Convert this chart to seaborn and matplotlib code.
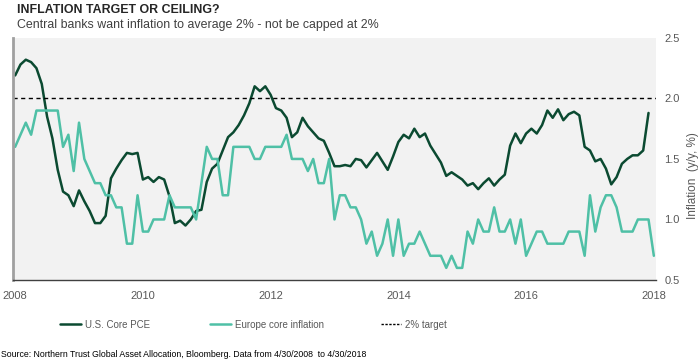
import numpy as np
import pandas as pd
import matplotlib
matplotlib.use("Agg")
import matplotlib.pyplot as plt
import seaborn as sns
from matplotlib.lines import Line2D

# ---------------- data (monthly, from 4/2008) ----------------
us_core_pce = [
    2.19, 2.28, 2.32, 2.30, 2.25, 2.12, 1.85, 1.67, 1.41, 1.23,
    1.20, 1.11, 1.24, 1.15, 1.07, 0.97, 0.97, 1.03, 1.34, 1.42,
    1.49, 1.55, 1.54, 1.55, 1.33, 1.35, 1.31, 1.35, 1.33, 1.19,
    0.97, 0.99, 0.95, 1.00, 1.07, 1.08, 1.31, 1.42, 1.46, 1.57,
    1.68, 1.72, 1.78, 1.86, 1.96, 2.10, 2.06, 2.10, 2.03, 1.92,
    1.90, 1.84, 1.68, 1.72, 1.84, 1.77, 1.72, 1.67, 1.65, 1.55,
    1.44, 1.44, 1.45, 1.44, 1.50, 1.49, 1.43, 1.49, 1.55, 1.48,
    1.41, 1.52, 1.64, 1.70, 1.67, 1.75, 1.68, 1.71, 1.61, 1.54,
    1.47, 1.36, 1.39, 1.36, 1.33, 1.28, 1.30, 1.25, 1.30, 1.34,
    1.28, 1.33, 1.37, 1.61, 1.71, 1.63, 1.71, 1.75, 1.71, 1.78,
    1.90, 1.84, 1.91, 1.82, 1.87, 1.89, 1.86, 1.60, 1.57, 1.48,
    1.50, 1.42, 1.29, 1.35, 1.46, 1.50, 1.53, 1.53, 1.57, 1.88,
]
europe_core = [
    1.6, 1.7, 1.8, 1.7, 1.9, 1.9, 1.9, 1.9, 1.9, 1.6,
    1.7, 1.4, 1.8, 1.5, 1.4, 1.3, 1.3, 1.2, 1.2, 1.1,
    1.1, 0.8, 0.8, 1.2, 0.9, 0.9, 1.0, 1.0, 1.0, 1.2,
    1.1, 1.1, 1.1, 1.1, 1.0, 1.3, 1.6, 1.5, 1.5, 1.2,
    1.2, 1.6, 1.6, 1.6, 1.6, 1.5, 1.5, 1.6, 1.6, 1.6,
    1.6, 1.7, 1.5, 1.5, 1.5, 1.4, 1.5, 1.3, 1.3, 1.5,
    1.0, 1.2, 1.2, 1.1, 1.1, 1.0, 0.8, 0.9, 0.7, 0.8,
    1.0, 0.7, 1.0, 0.7, 0.8, 0.8, 0.9, 0.8, 0.7, 0.7,
    0.7, 0.6, 0.7, 0.6, 0.6, 0.9, 0.8, 1.0, 0.9, 0.9,
    1.1, 0.9, 0.9, 1.0, 0.8, 1.0, 0.7, 0.8, 0.9, 0.9,
    0.8, 0.8, 0.8, 0.8, 0.9, 0.9, 0.9, 0.7, 1.2, 0.9,
    1.1, 1.2, 1.2, 1.1, 0.9, 0.9, 0.9, 1.0, 1.0, 1.0,
    0.7,
]
target = 2.0
year_labels = ["2008", "2010", "2012", "2014", "2016", "2018"]
series_names = ["U.S. Core PCE", "Europe core inflation"]
legend_target = "2% target"

# ---------------- build long frame ----------------
df = pd.concat([
    pd.DataFrame({"month": np.arange(len(us_core_pce)), "value": us_core_pce,
                  "series": series_names[0]}),
    pd.DataFrame({"month": np.arange(len(europe_core)), "value": europe_core,
                  "series": series_names[1]}),
])

US_COL = "#0b4a31"
EU_COL = "#4fc0a6"
TXT = "#595959"

sns.set_theme(style="white")
plt.rcParams["font.family"] = ["Liberation Sans", "DejaVu Sans"]

fig = plt.figure(figsize=(7.0, 3.61), dpi=100)
ax = fig.add_axes([0.0186, 0.2244, 0.9185, 0.6706])
ax.set_facecolor("#f2f2f2")

sns.lineplot(data=df, x="month", y="value", hue="series",
             palette={series_names[0]: US_COL, series_names[1]: EU_COL},
             linewidth=1.8, legend=False, ax=ax)
ax.axhline(target, color="black", linestyle=(0, (3, 2.5)), linewidth=1.0)

ax.set_xlim(-0.4, 120.4)
ax.set_ylim(0.5, 2.5)
ax.set_xticks(np.arange(len(year_labels)) * 24)
ax.set_xticklabels(year_labels)
ax.set_yticks([0.5, 1.0, 1.5, 2.0, 2.5])
ax.set_yticklabels(["0.5", "1.0", "1.5", "2.0", "2.5"])
ax.yaxis.tick_right()
ax.yaxis.set_label_position("right")
ax.tick_params(axis="both", length=0, labelsize=8, labelcolor=TXT)
ax.tick_params(axis="x", pad=8)
ax.tick_params(axis="y", pad=6)
ax.set_xlabel("")
ax.set_ylabel("Inflation  (y/y, %)", fontsize=8.5, color=TXT)
ax.yaxis.set_label_coords(1.048, 0.43)

for s in ["top", "right"]:
    ax.spines[s].set_visible(False)
ax.spines["left"].set_color("#a0a0a0")
ax.spines["left"].set_linewidth(2.0)
ax.spines["bottom"].set_color("#404040")
ax.spines["bottom"].set_linewidth(1.0)

# legend: three entries placed like the original
handles = [
    Line2D([], [], color=US_COL, linewidth=1.8),
    Line2D([], [], color=EU_COL, linewidth=1.8),
    Line2D([], [], color="black", linewidth=1.0, linestyle=(0, (1.7, 1.1))),
]
labels = series_names + [legend_target]
anchors_x = [60 / 700, 210 / 700, 381 / 700]
hlens = [2.2, 2.2, 2.1]
for h, lab, xa, hl in zip(handles, labels, anchors_x, hlens):
    lg = fig.legend([h], [lab], loc="center left", bbox_to_anchor=(xa, 0.1),
                    frameon=False, borderpad=0, borderaxespad=0,
                    handlelength=hl, handletextpad=0.35,
                    prop={"size": 7.0})
    for t in lg.get_texts():
        t.set_color(TXT)

# titles and source
fig.text(0.024, 0.973, "INFLATION TARGET OR CEILING?", fontsize=8.9,
         fontweight="bold", color="#262626", va="center", ha="left")
fig.text(0.024, 0.930, "Central banks want inflation to average 2% - not be capped at 2%",
         fontsize=8.9, color="#404040", va="center", ha="left")
fig.text(0.002, 0.018,
         "Source: Northern Trust Global Asset Allocation, Bloomberg. Data from 4/30/2008  to 4/30/2018",
         fontsize=6.3, color="black", va="center", ha="left")

fig.savefig("out.png", dpi=100)
